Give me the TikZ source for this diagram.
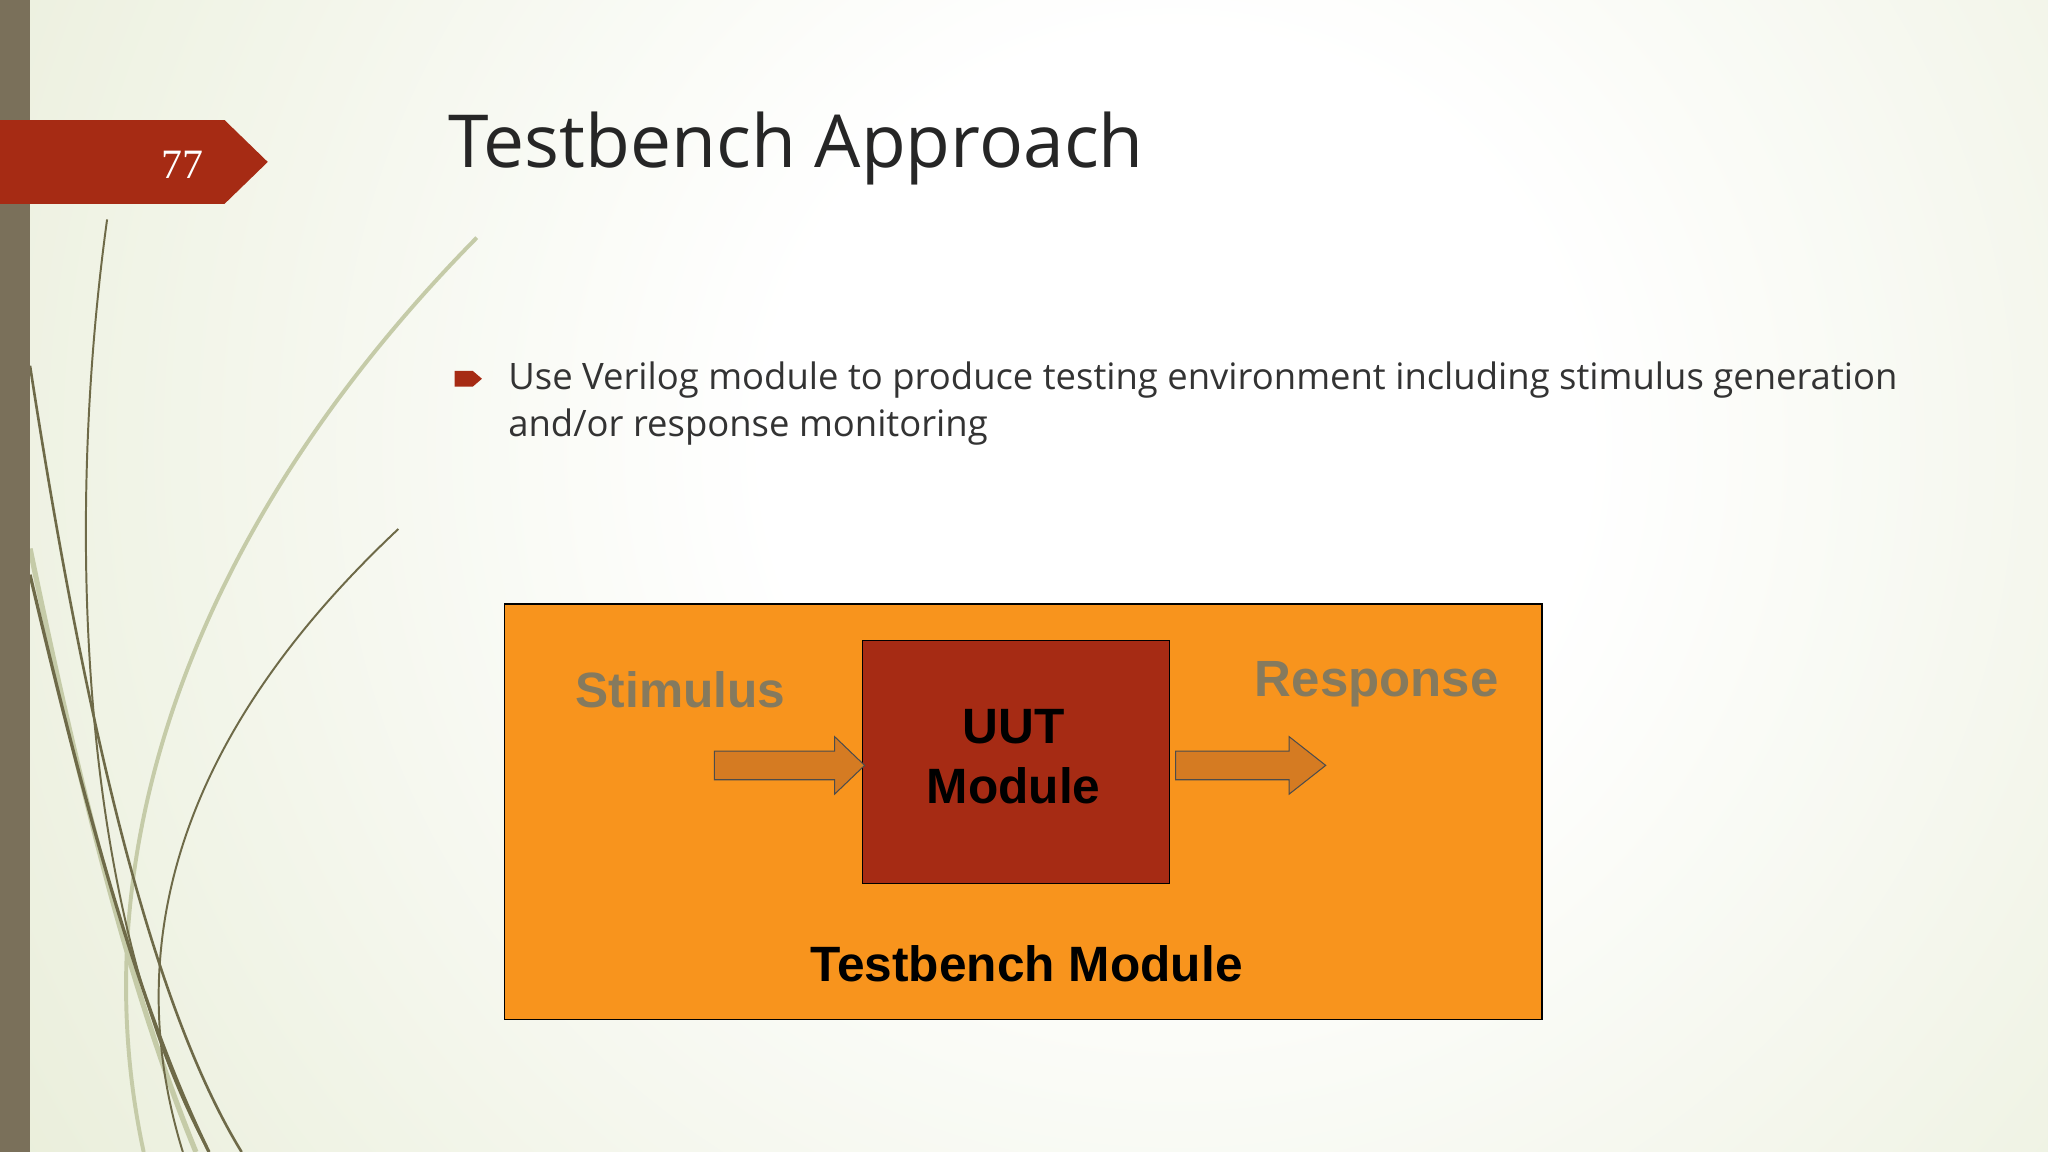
\documentclass[tikz,border=0pt]{standalone}
\usepackage{fontspec}
\setmainfont{Open Sans}
\newfontfamily\arialf{Liberation Sans}
\newfontfamily\serf{Liberation Serif}
\definecolor{bgedge}{HTML}{D9E1BE}
\definecolor{barc}{HTML}{7A705A}
\definecolor{redc}{HTML}{A62B14}
\definecolor{orangec}{HTML}{F8941D}
\definecolor{arrc}{HTML}{D57B22}
\definecolor{greyt}{HTML}{857A5E}
\definecolor{stem}{HTML}{6E6A48}
\definecolor{stemlight}{HTML}{C5CBA8}
\pgfdeclareradialshading{bgsh}{\pgfpoint{0bp}{0bp}}{color(0bp)=(white); color(6bp)=(white); color(20bp)=(bgedge!55!white); color(32bp)=(bgedge); color(50bp)=(bgedge)}
\tikzset{
 big/.style={font=\arialf\bfseries\fontsize{38}{46}\selectfont},
 blockarrow/.style={draw=black!70, fill=arrc, line width=0.8pt}
}
\begin{document}
\begin{tikzpicture}[x=1pt,y=-1pt]
\useasboundingbox (0,0) rectangle (1568,882);
\begin{scope}
\clip (0,0) rectangle (1568,882);
\shade[shading=bgsh] (900,340) circle (1300);
\end{scope}
% curves
\draw[stemlight, line width=3pt] (365,182) .. controls (150,400) and (60,650) .. (110,882);
\draw[stemlight, line width=4pt] (23,420) .. controls (60,600) and (100,760) .. (150,882);
\draw[stem, line width=1.5pt] (82,168) .. controls (50,400) and (60,700) .. (160,882);
\draw[stem, line width=2pt] (23,280) .. controls (60,520) and (110,760) .. (185,882);
\draw[stem, line width=1.5pt] (305,405) .. controls (140,560) and (90,720) .. (140,882);
\draw[stem, line width=2.5pt] (23,440) .. controls (70,640) and (110,780) .. (160,882);
\fill[barc] (0,0) rectangle (23,882);
% tag
\fill[redc] (0,92) -- (172,92) -- (205,124) -- (172,156) -- (0,156) -- cycle;
\node[text=white, font=\serf\fontsize{32}{34}\selectfont] (num) at (140,126) {77};
\node[anchor=base west, inner sep=0, text=black!85, font=\fontsize{56}{60}\selectfont] (title) at (343,128) {Testbench Approach};
% bullet
\fill[redc] (348,284) -- (362,284) -- (369,290) -- (362,296) -- (348,296) -- cycle;
\node[anchor=north west, inner sep=0, align=left, text=black!80, font=\fontsize{27.9}{36}\selectfont] (bul) at (389,277) {Use Verilog module to produce testing environment including stimulus generation\\and/or response monitoring};
% boxes
\node[draw=black, line width=1pt, fill=orangec, minimum width=794pt, minimum height=318pt, anchor=north west] (tb) at (386,462) {};
\node[draw=black, line width=1pt, fill=redc, minimum width=235pt, minimum height=186pt, anchor=north west] (uut) at (660,490) {};
\node[big, align=center, text=black] (uutt) at (776,579) {UUT\\Module};
\node[big, text=greyt] (stim) at (521,528) {Stimulus};
\node[big, text=greyt, font=\arialf\bfseries\fontsize{39}{46}\selectfont] (resp) at (1054,524) {Response};
\node[big, text=black] (tbt) at (786,738) {Testbench Module};
\draw[blockarrow] (547,575) -- (639,575) -- (639,564) -- (662,586) -- (639,608) -- (639,597) -- (547,597) -- cycle;
\draw[blockarrow] (900,575) -- (987,575) -- (987,564) -- (1015,586) -- (987,608) -- (987,597) -- (900,597) -- cycle;
\end{tikzpicture}
\end{document}
